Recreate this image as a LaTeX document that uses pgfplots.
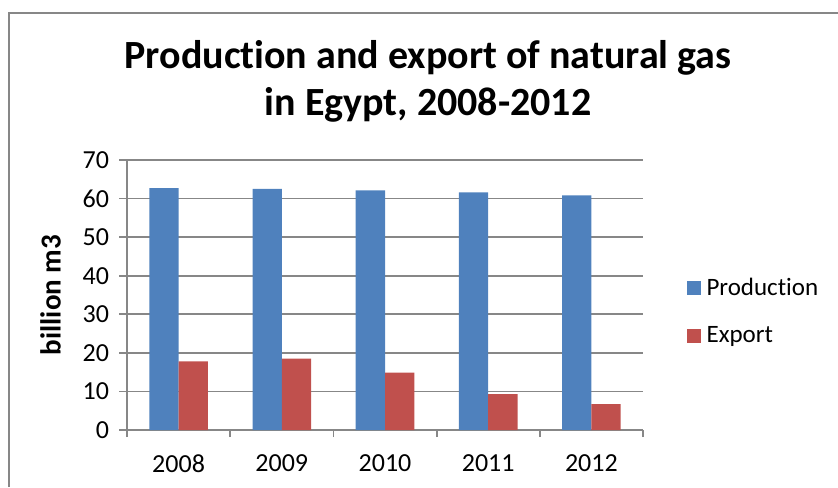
\documentclass[border=0pt]{standalone}
\usepackage{fontspec}
\setmainfont{Carlito}[Ligatures=NoCommon]
\usepackage{pgfplots}
\pgfplotsset{compat=1.18}
\definecolor{prodblue}{HTML}{4F81BD}
\definecolor{expred}{HTML}{C0504D}
\definecolor{gridgray}{HTML}{878787}
\begin{document}
\begin{tikzpicture}[x=0.5pt,y=0.5pt]
\path[use as bounding box] (0,0) rectangle (838,487);
\draw[gridgray, line width=0.8pt] (9,0) -- (9,474) -- (838,474);
\node[font=\bfseries\fontsize{20}{23.5}\selectfont, align=center] at (428,405.5)
  {Production and export of natural gas\\in Egypt, 2008-2012};
\begin{axis}[
  at={(63.5pt,28.5pt)}, anchor=south west,
  width=258pt, height=135pt, scale only axis,
  xmin=-0.5, xmax=4.5, ymin=0, ymax=70,
  ybar=0pt, bar width=14.65pt,
  xtick={0,1,2,3,4}, xticklabels={2008,2009,2010,2011,2012},
  major x tick style={draw=none},
  minor xtick={-0.5,0.5,1.5,2.5,3.5,4.5},
  ytick={0,10,...,70},
  ymajorgrids, grid style={gridgray, line width=0.8pt},
  axis x line*=bottom, axis y line*=left,
  axis line style={gridgray, line width=0.9pt, -},
  tick style={gridgray, line width=0.9pt},
  tick align=outside,
  major tick length=4pt, minor tick length=3.5pt,
  ticklabel style={font=\fontsize{13}{15}\selectfont},
  xticklabel style={yshift=-5pt},
  yticklabel style={xshift=-1.5pt},
  /pgf/number format/assume math mode=true,
  ylabel={billion m3}, ylabel style={font=\bfseries\fontsize{14.5}{16}\selectfont, yshift=4pt},
  legend style={at={(1.072,0.437)}, anchor=west, draw=none, fill=none,
    font=\fontsize{12.5}{14}\selectfont, row sep=10pt, legend cell align=left},
  legend image code/.code={\fill[#1] (0pt,-3.5pt) rectangle (7pt,3.5pt);},
  legend style={/tikz/every even column/.append style={column sep=0pt}},
  legend style={nodes={inner xsep=3pt}},
]
\addplot[fill=prodblue, draw=none] coordinates {
  (0,62.7) (1,62.5) (2,62.1) (3,61.6) (4,60.8)
};
\addlegendentry{Production}
\addplot[fill=expred, draw=none] coordinates {
  (0,17.8) (1,18.5) (2,14.9) (3,9.3) (4,6.7)
};
\addlegendentry{Export}
\end{axis}
\end{tikzpicture}
\end{document}
